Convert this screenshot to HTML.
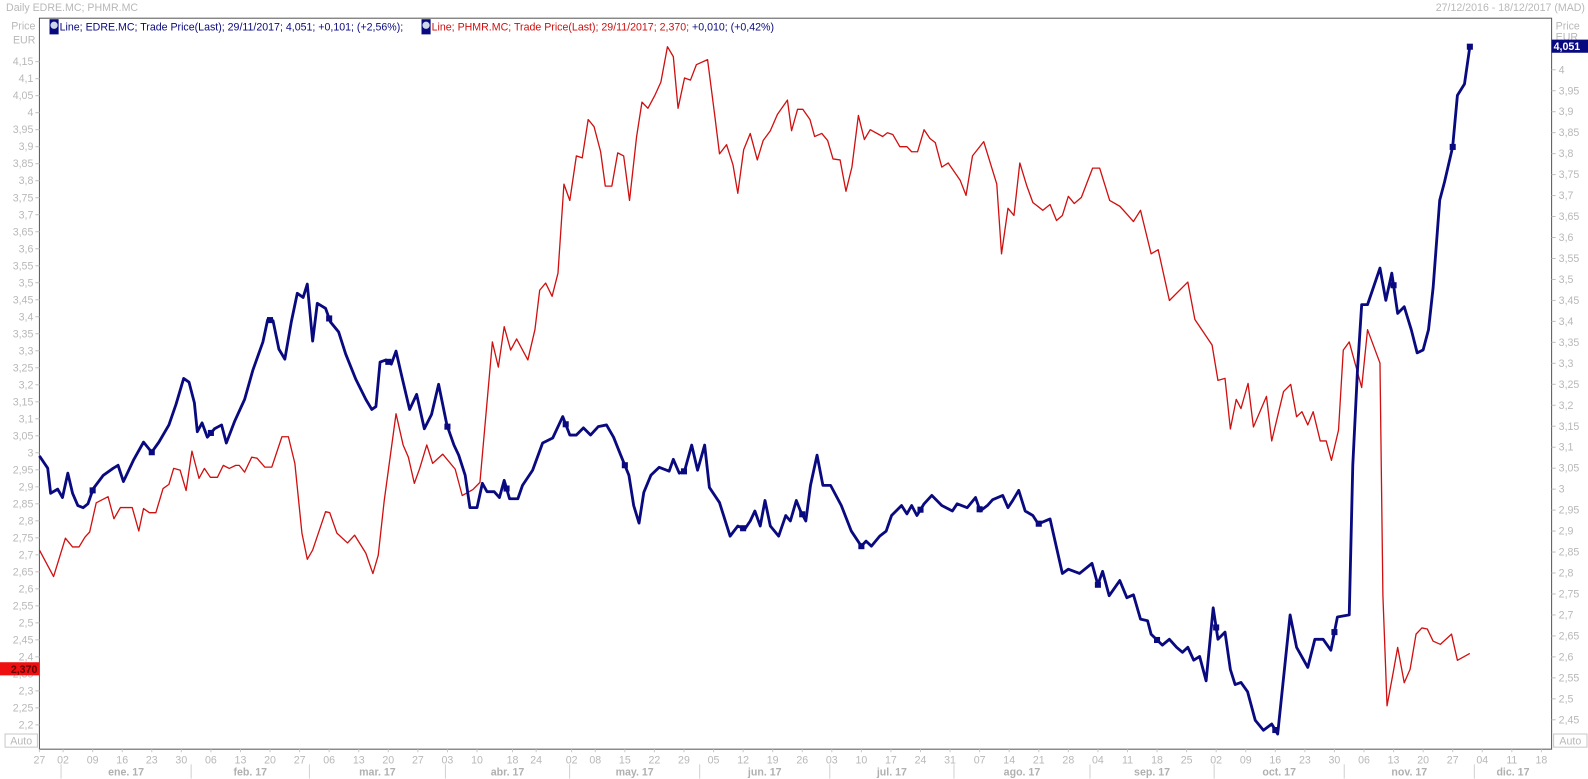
<!DOCTYPE html>
<html><head><meta charset="utf-8">
<style>
html,body{margin:0;padding:0;background:#fff;}
svg{display:block;font-family:"Liberation Sans",sans-serif;}
</style></head>
<body>
<svg id="chart" width="1588" height="779" viewBox="-2 0 1571 770.5" preserveAspectRatio="none" xmlns="http://www.w3.org/2000/svg">
  <rect x="-2" y="0" width="1571" height="771" fill="#fff"/>
  <text x="4" y="11" font-size="10.5" fill="#b8b8b8">Daily EDRE.MC; PHMR.MC</text>
  <text x="1566" y="11" font-size="10.5" fill="#b8b8b8" text-anchor="end">27/12/2016 - 18/12/2017 (MAD)</text>
  <rect x="37" y="18" width="1496" height="723" fill="none" stroke="#555" stroke-width="1"/>
  <text x="33" y="29" font-size="10.5" fill="#b8b8b8" text-anchor="end">Price</text>
  <text x="33" y="43" font-size="10.5" fill="#b8b8b8" text-anchor="end">EUR</text>
  <text x="1537" y="29" font-size="10.5" fill="#b8b8b8">Price</text>
  <text x="1537" y="40" font-size="10.5" fill="#b8b8b8">EUR</text>
  <g id="legend">
    <rect x="47" y="19" width="9" height="15" fill="#0a0a80"/>
    <circle cx="51.5" cy="25" r="4" fill="#cfd8e8" stroke="#0a0a80" stroke-width="0.8"/>
    <text x="57" y="30" font-size="10.5" fill="#0a0a80">Line; EDRE.MC; Trade Price(Last);  29/11/2017;  4,051;  +0,101;  (+2,56%);</text>
    <rect x="415" y="19" width="9" height="15" fill="#0a0a80"/>
    <circle cx="419.5" cy="25" r="4" fill="#cfd8e8" stroke="#0a0a80" stroke-width="0.8"/>
    <text x="425" y="30" font-size="10.5" fill="#cc1010">Line; PHMR.MC; Trade Price(Last);  29/11/2017;  2,370;  <tspan fill="#0a0a80">+0,010;  (+0,42%)</tspan></text>
  </g>
  <g id="axes"></g>
  <g id="series"></g>
  <rect x="3" y="726" width="32" height="13" fill="#fff" stroke="#c8c8c8"/>
  <text x="19" y="736.5" font-size="10.5" fill="#b8b8b8" text-anchor="middle">Auto</text>
  <rect x="1535" y="726" width="33" height="13" fill="#fff" stroke="#c8c8c8"/>
  <text x="1551.5" y="736.5" font-size="10.5" fill="#b8b8b8" text-anchor="middle">Auto</text>
</svg>
<script>
const blueDays=[0,1.4,1.9,3.1,3.9,4.8,5.6,6.5,7.4,8.2,9.1,10.8,12.5,13.3,14.2,15.9,17.6,19.0,20.2,21.9,23.1,24.4,25.3,26.2,26.7,27.5,28.4,29.6,30.8,31.6,33.0,34.7,36.1,37.8,38.6,39.5,40.5,41.5,42.6,43.6,44.6,45.3,46.2,47.0,48.4,49.2,50.6,51.8,53.5,55.2,56.2,56.9,57.6,58.6,59.5,60.3,61.2,62.6,63.8,65.1,66.3,67.5,68.9,70.1,70.9,72.0,72.8,74.0,74.9,75.7,76.9,77.8,78.6,79.5,80.9,81.7,83.4,85.1,86.8,88.5,89.7,90.8,92.0,93.2,94.5,95.9,97.1,98.3,99.7,100.5,101.4,102.2,103.4,104.8,106.5,107.2,108.2,109.1,110.3,111.3,112.5,113.3,115.0,116.8,118.1,119.3,120.2,121.0,121.9,122.7,123.6,125.0,126.2,127.0,128.0,128.7,129.6,130.4,131.5,132.5,133.8,135.6,137.3,139.0,139.8,140.7,142.1,143.2,144.1,145.8,146.7,147.5,148.4,149.6,150.9,152.6,154.4,155.2,156.9,158.3,159.1,160.3,161.2,162.9,163.8,164.6,165.6,166.7,168.0,168.9,170.9,173.0,174.0,175.9,178.0,179.0,179.8,180.9,182.7,183.9,185.0,186.2,187.4,188.0,189.9,191.1,192.3,193.3,194.2,195.2,196.2,197.3,198.5,199.3,200.5,201.4,202.2,203.2,204.3,205.6,207.0,208.4,209.4,211.5,212.6,214.5,215.7,217.1,218.4,219.5,221.5,222.1,222.9,223.6,224.6,226.7,227.7,228.7,229.7,230.8,232.0,233.0,234.0,234.9,235.7,236.8,237.6,239.0,239.8,241.0,241.9];
const blueVals=[3.079,3.050,2.990,3.000,2.980,3.038,2.990,2.961,2.956,2.965,3.001,3.033,3.050,3.057,3.018,3.069,3.112,3.088,3.112,3.153,3.202,3.264,3.255,3.206,3.137,3.158,3.124,3.144,3.153,3.110,3.161,3.214,3.284,3.351,3.404,3.402,3.334,3.310,3.399,3.467,3.457,3.489,3.353,3.443,3.431,3.399,3.375,3.322,3.262,3.214,3.190,3.197,3.303,3.308,3.298,3.329,3.274,3.190,3.226,3.144,3.178,3.250,3.153,3.105,3.081,3.033,2.956,2.956,3.014,2.994,2.994,2.980,3.021,2.977,2.977,3.009,3.045,3.110,3.122,3.173,3.129,3.129,3.146,3.129,3.149,3.153,3.124,3.081,3.033,2.961,2.919,2.992,3.033,3.052,3.043,3.071,3.038,3.043,3.105,3.045,3.105,3.004,2.968,2.888,2.912,2.905,2.924,2.948,2.912,2.973,2.912,2.888,2.937,2.924,2.973,2.948,2.924,3.009,3.081,3.009,3.009,2.961,2.900,2.864,2.876,2.864,2.888,2.900,2.937,2.961,2.941,2.961,2.937,2.965,2.985,2.961,2.948,2.965,2.956,2.980,2.948,2.961,2.975,2.985,2.956,2.973,2.997,2.948,2.937,2.917,2.929,2.799,2.809,2.799,2.823,2.772,2.804,2.746,2.782,2.741,2.748,2.690,2.686,2.654,2.628,2.642,2.623,2.611,2.623,2.592,2.601,2.543,2.717,2.642,2.659,2.570,2.534,2.539,2.517,2.449,2.425,2.440,2.416,2.700,2.623,2.575,2.642,2.642,2.616,2.695,2.700,3.057,3.286,3.440,3.440,3.527,3.450,3.515,3.419,3.435,3.380,3.325,3.332,3.380,3.481,3.689,3.732,3.816,3.939,3.966,4.055];
const redDays=[0,2.4,4.4,5.6,6.7,7.7,8.5,9.6,11.6,12.6,13.7,15.7,16.8,17.6,18.6,19.7,20.9,21.9,22.7,23.8,24.8,25.8,27.0,27.9,28.9,30.1,31.1,32.1,33.2,33.8,34.7,35.9,36.8,38.1,39.3,41.0,42.1,43.2,44.4,45.3,46.2,48.4,49.1,50.3,52.1,53.3,55.2,56.4,57.3,58.3,60.3,61.5,62.4,63.4,64.3,65.5,66.5,68.2,70.3,71.5,73.3,74.5,76.6,77.6,78.6,79.7,80.7,82.6,83.8,84.6,85.6,86.7,87.7,88.7,89.7,90.8,91.8,92.8,93.8,94.9,95.7,96.8,97.8,98.8,99.8,101.0,101.9,102.9,104.1,105.1,106.2,107.2,108.0,109.1,110.1,111.1,113.0,114.2,115.0,116.2,117.3,118.1,119.1,120.2,121.4,122.4,123.6,124.8,126.5,127.2,128.2,129.1,130.3,131.1,132.3,133.3,134.2,135.4,136.4,137.4,138.5,139.5,140.5,142.6,143.4,144.3,145.5,146.7,147.5,148.5,149.6,150.6,151.5,152.6,153.7,155.7,156.7,157.8,159.7,161.9,162.7,163.8,164.8,165.8,167.0,168.0,169.7,170.9,172.0,173.0,174.0,175.0,176.2,178.1,179.3,181.0,182.7,184.1,185.0,186.2,188.0,189.2,191.1,194.2,195.4,198.3,199.3,200.5,201.4,202.4,203.2,204.4,205.3,207.5,208.4,210.4,211.6,212.6,213.5,214.5,215.4,216.6,217.6,218.5,219.7,220.5,221.5,223.6,224.6,226.7,227.2,227.9,228.9,229.7,230.8,231.8,232.8,233.8,234.7,235.7,236.9,238.8,239.8,241.9];
const redVals=[2.714,2.636,2.749,2.723,2.723,2.752,2.767,2.853,2.871,2.806,2.839,2.839,2.770,2.836,2.824,2.824,2.895,2.907,2.954,2.949,2.889,3.005,2.925,2.954,2.928,2.928,2.963,2.954,2.963,2.963,2.943,2.987,2.984,2.958,2.958,3.047,3.047,2.969,2.764,2.687,2.714,2.827,2.824,2.764,2.735,2.758,2.705,2.645,2.699,2.859,3.115,3.023,2.987,2.910,2.954,3.023,2.969,2.996,2.952,2.874,2.892,2.913,3.326,3.252,3.371,3.302,3.335,3.273,3.362,3.478,3.499,3.460,3.528,3.790,3.742,3.873,3.867,3.980,3.959,3.885,3.784,3.784,3.882,3.873,3.742,3.930,4.031,4.013,4.052,4.090,4.194,4.165,4.013,4.102,4.096,4.141,4.156,3.992,3.879,3.906,3.846,3.763,3.891,3.939,3.861,3.918,3.947,3.995,4.037,3.947,4.010,4.010,3.980,3.930,3.939,3.918,3.864,3.861,3.769,3.840,3.992,3.921,3.950,3.930,3.941,3.936,3.900,3.900,3.885,3.885,3.950,3.924,3.912,3.840,3.852,3.802,3.757,3.873,3.915,3.790,3.585,3.719,3.698,3.852,3.784,3.736,3.713,3.730,3.683,3.698,3.754,3.733,3.751,3.837,3.837,3.742,3.725,3.698,3.680,3.713,3.585,3.597,3.448,3.502,3.392,3.317,3.213,3.219,3.070,3.157,3.130,3.204,3.076,3.166,3.035,3.180,3.201,3.106,3.121,3.082,3.121,3.035,3.035,2.978,3.067,3.302,3.326,3.192,3.362,3.264,2.580,2.256,2.351,2.428,2.324,2.363,2.467,2.485,2.482,2.446,2.437,2.467,2.390,2.410];
const leftTicks=[4.15,4.1,4.05,4,3.95,3.9,3.85,3.8,3.75,3.7,3.65,3.6,3.55,3.5,3.45,3.4,3.35,3.3,3.25,3.2,3.15,3.1,3.05,3,2.95,2.9,2.85,2.8,2.75,2.7,2.65,2.6,2.55,2.5,2.45,2.4,2.35,2.3,2.25,2.2];
const rightTicks=[4,3.95,3.9,3.85,3.8,3.75,3.7,3.65,3.6,3.55,3.5,3.45,3.4,3.35,3.3,3.25,3.2,3.15,3.1,3.05,3,2.95,2.9,2.85,2.8,2.75,2.7,2.65,2.6,2.55,2.5,2.45];
const dayTickDates=["2016-12-27","2017-01-02","2017-01-09","2017-01-16","2017-01-23","2017-01-30","2017-02-06","2017-02-13","2017-02-20","2017-02-27","2017-03-06","2017-03-13","2017-03-20","2017-03-27","2017-04-03","2017-04-10","2017-04-18","2017-04-24","2017-05-02","2017-05-08","2017-05-15","2017-05-22","2017-05-29","2017-06-05","2017-06-12","2017-06-19","2017-06-26","2017-07-03","2017-07-10","2017-07-17","2017-07-24","2017-07-31","2017-08-07","2017-08-14","2017-08-21","2017-08-28","2017-09-04","2017-09-11","2017-09-18","2017-09-25","2017-10-02","2017-10-09","2017-10-16","2017-10-23","2017-10-30","2017-11-06","2017-11-13","2017-11-20","2017-11-27","2017-12-04","2017-12-11","2017-12-18"];
const monthStartDates=["2017-01-02","2017-02-01","2017-03-01","2017-04-03","2017-05-02","2017-06-01","2017-07-03","2017-08-01","2017-09-01","2017-10-02","2017-11-01","2017-12-01"];
const monthLabels=["ene. 17","feb. 17","mar. 17","abr. 17","may. 17","jun. 17","jul. 17","ago. 17","sep. 17","oct. 17","nov. 17","dic. 17"];
const lastBlue="4,051", lastRed="2,370";

const NS="http://www.w3.org/2000/svg";
const PL=37,PR=1533,PT=18,PB=741;
function xOf(d){return PL+d*5.85;}
function yLeft(v){return 61+(4.15-v)/0.05*16.82;}
function yRight(v){return 69+(4-v)/0.05*20.74;}
function dayIndex(s){
  const start=Date.UTC(2016,11,27);const p=s.split("-");
  const t=Date.UTC(+p[0],+p[1]-1,+p[2]);let n=0;
  for(let u=start;u<t;u+=86400000){const w=new Date(u).getUTCDay();if(w!==0&&w!==6)n++;}
  return n;
}
function el(tag,attrs,parent){const e=document.createElementNS(NS,tag);for(const k in attrs)e.setAttribute(k,attrs[k]);parent.appendChild(e);return e;}
function fmt(v){return String(+v.toFixed(2)).replace(".",",");}
const axes=document.getElementById("axes"),series=document.getElementById("series");

leftTicks.forEach(v=>{
  const y=yLeft(v);
  const t=el("text",{x:31,y:y+3.5,"font-size":10.5,fill:"#b8b8b8","text-anchor":"end"},axes);
  
  
  t.textContent=fmt(v);
  const l=el("line",{x1:33,x2:37,y1:y,y2:y,stroke:"#c0c0c0"},axes);
  
  
});
rightTicks.forEach(v=>{
  const y=yRight(v);
  const t=el("text",{x:1540,y:y+3.5,"font-size":10.5,fill:"#b8b8b8"},axes);
  
  
  t.textContent=fmt(v);
  const l=el("line",{x1:1533,x2:1537,y1:y,y2:y,stroke:"#c0c0c0"},axes);
  
  
});
dayTickDates.forEach(s=>{
  const x=xOf(dayIndex(s));
  const t=el("text",{x:x,y:755,"font-size":10.5,fill:"#b8b8b8","text-anchor":"middle"},axes);
  
  
  t.textContent=s.slice(8);
  const l=el("line",{x1:x,x2:x,y1:741,y2:744,stroke:"#c8c8c8"},axes);
  
  
});
const seps=monthStartDates.map(s=>xOf(dayIndex(s))-2);
seps.forEach((x,i)=>{
  const l=el("line",{x1:x,x2:x,y1:756,y2:770,stroke:"#d0d0d0"},axes);
  
  
  const nx=i<seps.length-1?seps[i+1]:PR;
  const t=el("text",{x:(x+nx)/2,y:767,"font-size":10.5,fill:"#b0b0b0","text-anchor":"middle","font-weight":"bold"},axes);
  
  
  t.textContent=monthLabels[i];
});

function pathFor(days,vals,yf){
  const n=Math.min(days.length,vals.length);let d="";
  for(let i=0;i<n;i++)d+=(i?"L":"M")+xOf(days[i]).toFixed(1)+","+yf(vals[i]).toFixed(1);
  return d;
}
const red=el("path",{d:pathFor(redDays,redVals,yLeft),fill:"none",stroke:"#d01010","stroke-width":1.3,"stroke-linejoin":"round"},series);


const blue=el("path",{d:pathFor(blueDays,blueVals,yRight),fill:"none",stroke:"#0a0a80","stroke-width":2.8,"stroke-linejoin":"round"},series);



function interp(days,vals,d){
  for(let i=1;i<days.length;i++){if(days[i]>=d){const f=(d-days[i-1])/(days[i]-days[i-1]||1);return vals[i-1]+f*(vals[i]-vals[i-1]);}}
  return vals[vals.length-1];
}
const markerDays=[];
for(let d=9;d<241;d+=10)markerDays.push(d);
markerDays.push(blueDays[blueDays.length-1]);
markerDays.forEach(d=>{
  const m=el("rect",{x:xOf(d)-3,y:yRight(interp(blueDays,blueVals,d))-3,width:6,height:6,fill:"#0a0a80"},series);
  
  
});

const by=yRight(blueVals[blueVals.length-1]);
const bb=el("rect",{x:1533,y:by-7,width:36,height:13,fill:"#0a0a80"},axes);


const bt=el("text",{x:1535,y:by+3.5,"font-size":10.5,fill:"#fff","font-weight":"bold"},axes);


bt.textContent=lastBlue;
const ry=662;
const rb=el("rect",{x:-2,y:ry-7,width:39,height:13,fill:"#ee1010"},axes);


const rt=el("text",{x:35,y:ry+3.5,"font-size":10.5,fill:"#600","font-weight":"bold","text-anchor":"end"},axes);


rt.textContent=lastRed;
</script>
</body></html>
